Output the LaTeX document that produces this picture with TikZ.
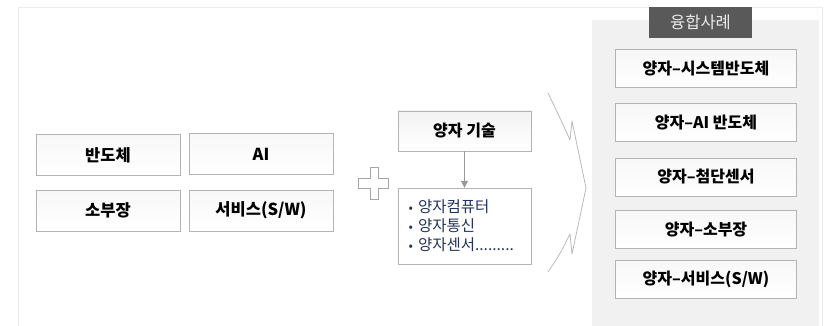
\documentclass[tikz,border=0pt]{standalone}
\usepackage{fontspec}
\setmainfont{Noto Sans CJK KR}
\definecolor{boxline}{HTML}{B4B4B4}
\definecolor{panelgray}{HTML}{F1F1F1}
\definecolor{titlegray}{HTML}{595959}
\definecolor{titletext}{HTML}{EAEAEA}
\definecolor{listblue}{HTML}{22345E}
\definecolor{framegray}{HTML}{EBEBEB}
\usetikzlibrary{arrows.meta}
\newcommand{\listdot}{{\fontsize{13}{19}\selectfont\textbullet}\ }

\begin{document}
\begin{tikzpicture}[x=1pt, y=-1pt,
				field/.style={draw=boxline, top color=gray!6, bottom color=white, minimum width=144pt, minimum height=41pt, font=\fontsize{16.5}{19}\selectfont\bfseries},
				casebox/.style={draw=boxline, top color=gray!6, bottom color=white, minimum width=181pt, minimum height=38pt, font=\fontsize{16}{19}\selectfont\bfseries},
				techbox/.style={draw=boxline, top color=gray!10, bottom color=white, minimum width=133pt, font=\fontsize{16}{19}\selectfont\bfseries}
			]
			\useasboundingbox (0,0) rectangle (835,326);
			% Frame and panel
			\draw[framegray] (18,326) -- (18,7) -- (822,7) -- (822,326);
			\fill[panelgray] (592,20) rectangle (819,326);
			\node[fill=titlegray, text=titletext, minimum width=103pt, minimum height=31pt, font=\fontsize{16.5}{19}\selectfont] (title) at (700.5,22.5) {융합사례};
			% Fields
			\node[field] (semi) at (108,155) {반도체};
			\node[field] (ai) at (261,154) {AI};
			\node[field] (parts) at (108,210.5) {소부장};
			\node[field] (service) at (261,210.5) {서비스(S/W)};
			% Plus
			\draw[gray!70, fill=white] (370,167) -- (378,167) -- (378,178) -- (388,178) -- (388,188) -- (378,188) -- (378,199) -- (370,199) -- (370,188) -- (358,188) -- (358,178) -- (370,178) -- cycle;
			% Quantum technology
			\node[techbox, minimum height=40pt] (tech) at (464.5,131) {양자 기술};
			\node[draw=boxline, fill=white, minimum width=133pt, minimum height=76pt, text width=112pt, align=left, text=listblue, font=\fontsize{15.5}{19}\selectfont] (list) at (464.5,226) {\listdot 양자컴퓨터\\\listdot 양자통신\\\listdot 양자센서.........};
			\draw[gray!80, line width=1pt, -{Triangle[width=7pt,length=7pt]}] (tech) -- (list);
			% Chevron
			\draw[gray!55, line width=0.8pt, line join=round] (548,93) .. controls (560,118) .. (570,140) -- (572,121) -- (586,188) -- (572,254) -- (570,234) .. controls (560,254) .. (548,272);
			% Cases
			\foreach \name/\y/\txt in {c1/68.5/{양자–시스템반도체}, c2/122.5/{양자–AI 반도체}, c3/177/{양자–첨단센서}, c4/229.5/{양자–소부장}, c5/279/{양자–서비스(S/W)}} {
					\node[casebox] (\name) at (706,\y) {\txt};
				}
		\end{tikzpicture}
\end{document}
